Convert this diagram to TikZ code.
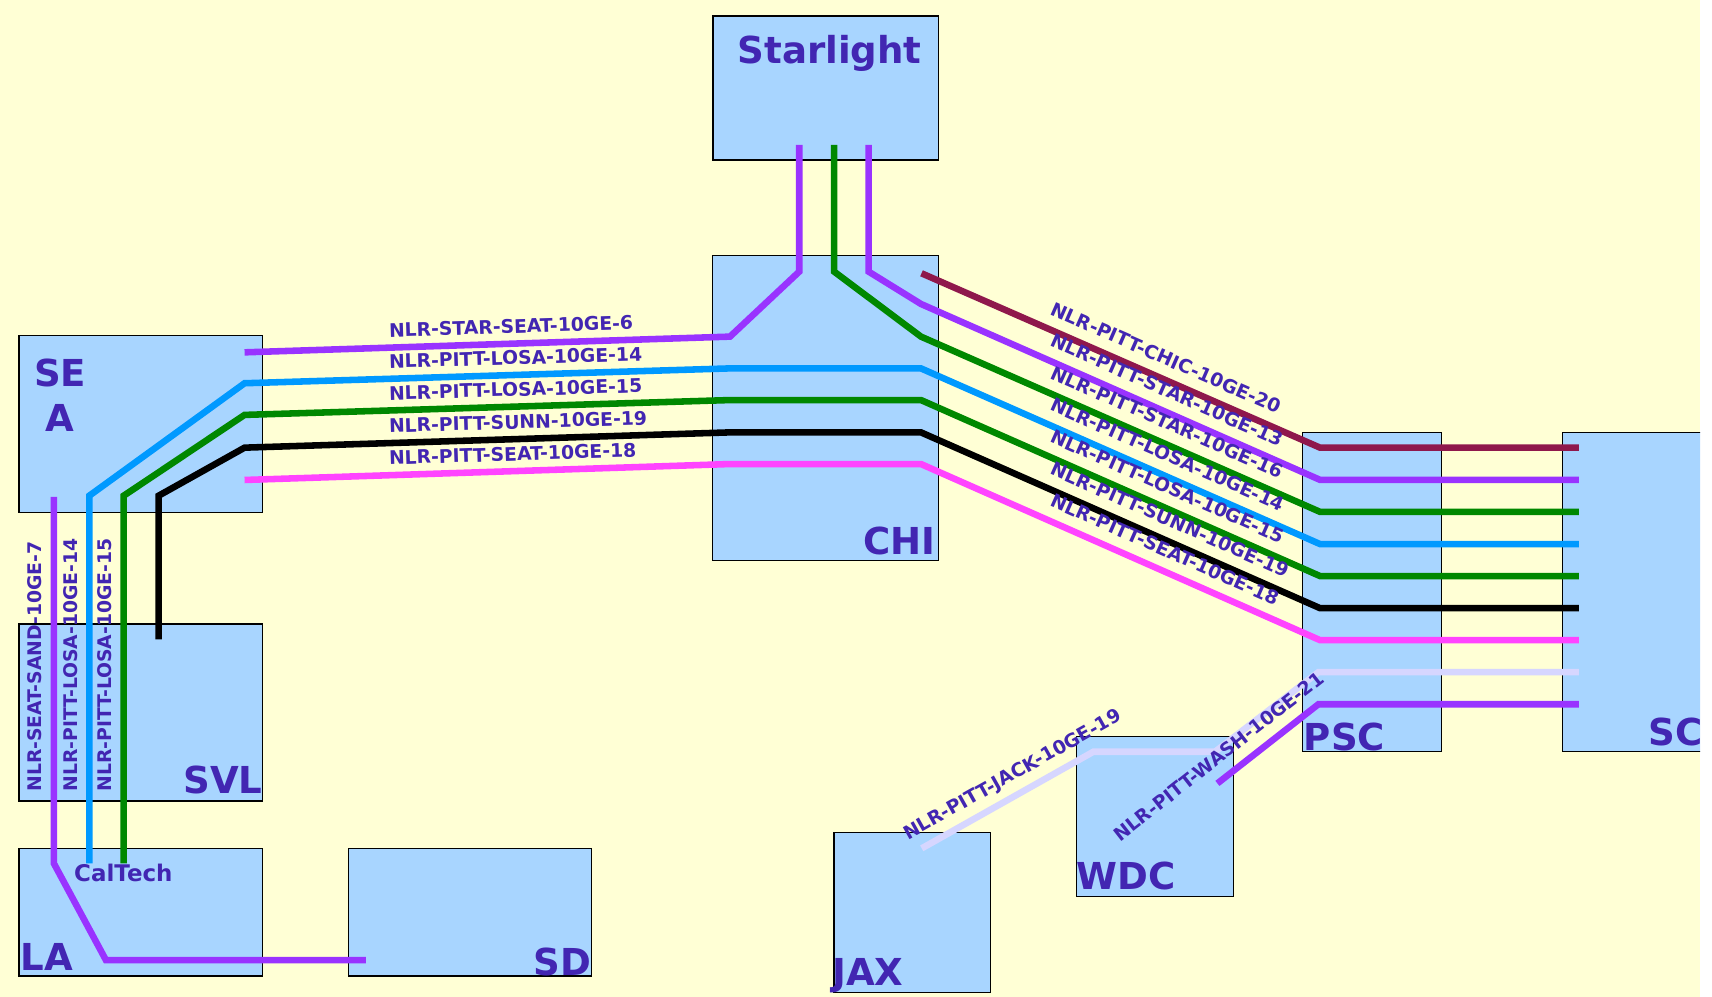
\documentclass[tikz,border=0pt]{standalone}
\usepackage{fontspec}
\setmainfont{DejaVu Sans}
\usetikzlibrary{positioning, calc}
\definecolor{bgyellow}{RGB}{255,255,213}
\definecolor{siteblue}{RGB}{168,213,255}
\definecolor{nameink}{RGB}{66,38,178}
\definecolor{lpurple}{RGB}{153,51,255}
\definecolor{lblue}{RGB}{0,153,255}
\definecolor{lgreen}{RGB}{0,136,0}
\definecolor{lpink}{RGB}{255,68,255}
\definecolor{lmaroon}{RGB}{143,24,76}
\definecolor{llav}{RGB}{214,214,255}

\begin{document}
\begin{tikzpicture}[x=1pt, y=-1pt,
  site/.style={draw=black, line width=1.2pt, fill=siteblue, inner sep=0pt},
  sitename/.style={text=nameink, inner sep=0pt, font=\fontsize{34}{42}\selectfont\bfseries},
  fiber/.style={line width=6pt},
  wavename/.style={text=nameink, font=\fontsize{17.2}{17.2}\selectfont\bfseries,
    sloped, anchor=south west, inner xsep=0pt, inner ysep=8pt, text depth=0pt},
  flat/.style={wavename, inner ysep=6.5pt},
  slant/.style={wavename, inner ysep=9.5pt}]
  \useasboundingbox (0,0) rectangle (1568,913);
  \fill[white] (0,0) rectangle (1568,913);
  \begin{scope}
  \clip (0,0) rectangle (1557,913);
  \fill[bgyellow] (0,0) rectangle (1557,913);

  % sites
  \node[site, minimum width=206.8pt, minimum height=131.8pt] (star) at (756.4,80.6) {};
  \node[site, minimum width=207pt, minimum height=279.3pt] (chi) at (756.2,373.9) {};
  \node[site, minimum width=223.2pt, minimum height=162pt] (sea) at (129,388.3) {};
  \node[site, minimum width=223.2pt, minimum height=162pt] (svl) at (129,652.5) {};
  \node[site, minimum width=223.2pt, minimum height=117pt] (la) at (129,835.5) {};
  \node[site, minimum width=222.6pt, minimum height=117pt] (sd) at (430.7,835.5) {};
  \node[site, minimum width=143.5pt, minimum height=146.6pt] (jax) at (835.6,835.6) {};
  \node[site, minimum width=143.8pt, minimum height=146.6pt] (wdc) at (1057.7,748) {};
  \node[site, minimum width=127pt, minimum height=292.5pt] (psc) at (1256.5,542.2) {};
  \node[site, minimum width=180pt, minimum height=292.5pt] (sc) at (1521,542.2) {};

  % ports
  \coordinate (star-a) at (732,132.8);
  \coordinate (star-b) at (764,132.8);
  \coordinate (star-c) at (795.6,132.8);
  \coordinate (sea-a) at (224,322.7);
  \coordinate (sea-m) at (224,439.6);
  \coordinate (sea-p) at (49.3,455);
  \coordinate (cal-p) at (49.3,790.7);
  \coordinate (cal-b) at (81.8,790.7);
  \coordinate (cal-g) at (113.3,790.7);
  \coordinate (svl-k) at (145.3,585.6);
  \coordinate (sd-p) at (335,879.3);
  \coordinate (chi-m) at (844,250.3);
  \coordinate (jax-l) at (844.2,777);
  \coordinate (wdc-p) at (1115,717.5);
  \foreach \i/\y in {1/410, 2/439.5, 3/468.8, 4/498.3, 5/527.6, 6/557, 7/586.3, 8/615.6, 9/645}
    \coordinate (sc-\i) at (1446,\y);

  % waves
  \draw[fiber, lmaroon] (chi-m) -- node[slant, pos=0.3] (w-chic) {NLR-PITT-CHIC-10GE-20} (1209,410) -- (sc-1);
  \draw[fiber, lpurple] (star-c) -- (795.6,248.8) -- (843.5,278.4)
    -- node[slant, pos=0.3] (w-star13) {NLR-PITT-STAR-10GE-13} (1209,439.5) -- (sc-2);
  \draw[fiber, lgreen] (star-b) -- (764,248.8) -- (843.5,308.3)
    -- node[slant, pos=0.3] (w-star16) {NLR-PITT-STAR-10GE-16} (1209,468.8) -- (sc-3);
  \draw[fiber, lpurple] (sea-a) -- node[flat, pos=0.292] (w-seat6) {NLR-STAR-SEAT-10GE-6} (668.6,308.3)
    -- (732,248.8) -- (star-a);
  \draw[fiber, lblue] (cal-b) -- node[wavename, pos=0.186] (w-losa14v) {NLR-PITT-LOSA-10GE-14} (81.8,454)
    -- (224,351) -- node[flat, pos=0.292] (w-losa14h) {NLR-PITT-LOSA-10GE-14} (668.6,337.4)
    -- (843.5,337.4) -- node[slant, pos=0.3] (w-losa14d) {NLR-PITT-LOSA-10GE-14} (1209,498.3) -- (sc-4);
  \draw[fiber, lgreen] (cal-g) -- node[wavename, pos=0.186] (w-losa15v) {NLR-PITT-LOSA-10GE-15} (113.3,454)
    -- (224,380) -- node[flat, pos=0.292] (w-losa15h) {NLR-PITT-LOSA-10GE-15} (668.6,366.4)
    -- (843.5,366.4) -- node[slant, pos=0.3] (w-losa15d) {NLR-PITT-LOSA-10GE-15} (1209,527.6) -- (sc-5);
  \draw[fiber, black] (svl-k) -- (145.3,454)
    -- (224,410) -- node[flat, pos=0.292] (w-sunnh) {NLR-PITT-SUNN-10GE-19} (668.6,396)
    -- (843.5,396) -- node[slant, pos=0.3] (w-sunnd) {NLR-PITT-SUNN-10GE-19} (1209,557) -- (sc-6);
  \draw[fiber, lpink] (sea-m) -- node[flat, pos=0.292] (w-seat18h) {NLR-PITT-SEAT-10GE-18} (668.6,425)
    -- (843.5,425) -- node[slant, pos=0.3] (w-seat18d) {NLR-PITT-SEAT-10GE-18} (1209,586.3) -- (sc-7);
  \draw[fiber, lpurple] (sd-p) -- (97,879.3) -- (cal-p)
    -- node[wavename, pos=0.187] (w-sand) {NLR-SEAT-SAND-10GE-7} (sea-p);
  \draw[fiber, llav] (jax-l) -- node[slant, anchor=south, pos=0.585] (w-jack) {NLR-PITT-JACK-10GE-19} (1001.4,688.5)
    -- (1112.8,688.5) -- (1207.5,615.6) -- (sc-8);
  \draw[fiber, lpurple] (wdc-p) -- node[slant, anchor=south, pos=0.136] (w-wash) {NLR-PITT-WASH-10GE-21} (1207.5,645) -- (sc-9);

  % site names
  \node[sitename, anchor=base west] (starname) at (675.3,58) {Starlight};
  \node[sitename, anchor=base west] (chiname) at (790.7,507.4) {CHI};
  \node[sitename, anchor=north, align=center] (seaname) at (55,328.2) {SE\\A};
  \node[sitename, anchor=base east] (svlname) at (240.6,726.6) {SVL};
  \node[sitename, anchor=base west] (laname) at (18.8,888.4) {LA};
  \node[sitename, anchor=base east] (sdname) at (541.5,893) {SD};
  \node[sitename, anchor=base west] (jaxname) at (762,902.2) {JAX};
  \node[sitename, anchor=base west] (wdcname) at (986,814.6) {WDC};
  \node[sitename, anchor=base west] (pscname) at (1194,687) {PSC};
  \node[sitename, anchor=base west] (scname) at (1509.7,682.4) {SC};
  \node[text=nameink, inner sep=0pt, anchor=base west, font=\fontsize{21}{21}\selectfont\bfseries] (caltech) at (67.8,807.5) {CalTech};
  \end{scope}
\end{tikzpicture}
\end{document}
